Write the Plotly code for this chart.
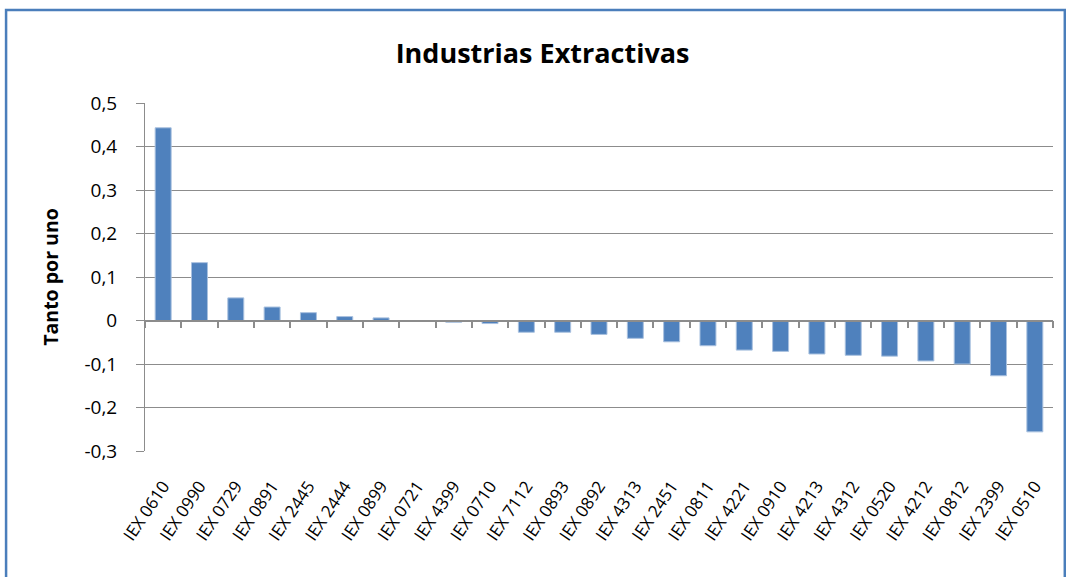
import plotly.graph_objects as go

# Códigos de actividad (orden descendente del indicador)
codigos = [
    "IEX 0610", "IEX 0990", "IEX 0729", "IEX 0891", "IEX 2445", "IEX 2444",
    "IEX 0899", "IEX 0721", "IEX 4399", "IEX 0710", "IEX 7112", "IEX 0893",
    "IEX 0892", "IEX 4313", "IEX 2451", "IEX 0811", "IEX 4221", "IEX 0910",
    "IEX 4213", "IEX 4312", "IEX 0520", "IEX 4212", "IEX 0812", "IEX 2399",
    "IEX 0510",
]

# Valor (tanto por uno) para cada código
valores = [
    0.443, 0.133, 0.052, 0.031, 0.018, 0.009,
    0.006, 0.0, -0.004, -0.007, -0.027, -0.027,
    -0.032, -0.041, -0.049, -0.058, -0.068, -0.071,
    -0.077, -0.080, -0.082, -0.093, -0.100, -0.127,
    -0.256,
]

# Escala del eje vertical
y_ticks = [0.5, 0.4, 0.3, 0.2, 0.1, 0.0, -0.1, -0.2, -0.3]
y_tick_labels = ["0,5", "0,4", "0,3", "0,2", "0,1", "0", "-0,1", "-0,2", "-0,3"]

y_min, y_max = -0.3, 0.5
zero_pos = (0 - y_min) / (y_max - y_min)

FONT = "Open Sans"
GRID = "#8C8C8C"

fig = go.Figure()

fig.add_trace(go.Bar(
    x=codigos, y=valores,
    xaxis="x", yaxis="y",
    marker=dict(color="#4F81BD", line=dict(color="#A9C1DF", width=1)),
    showlegend=False,
))

# Copia transparente que sostiene el eje de categorías situado en y = 0
fig.add_trace(go.Bar(
    x=codigos, y=valores,
    xaxis="x2", yaxis="y",
    marker=dict(color="rgba(0,0,0,0)", line=dict(width=0)),
    hoverinfo="skip", showlegend=False,
))

fig.update_layout(
    width=1066, height=577,
    margin=dict(l=145, r=13, t=103, b=126),
    paper_bgcolor="white", plot_bgcolor="white",
    bargap=0.56,
    font=dict(family=FONT, color="#000000"),
    title=dict(
        text="<b>Industrias Extractivas</b>",
        font=dict(family=FONT, size=27, color="#000000"),
        xref="container", x=0.509, xanchor="center",
        yref="container", y=0.908, yanchor="middle",
    ),
    xaxis=dict(
        type="category", categoryorder="array", categoryarray=codigos,
        range=[-0.5, len(codigos) - 0.5],
        showgrid=False, zeroline=False, showline=False, ticks="",
        tickangle=-56, tickfont=dict(family=FONT, size=17),
        ticklabelstandoff=21,
    ),
    xaxis2=dict(
        type="category", categoryorder="array", categoryarray=codigos,
        range=[-0.5, len(codigos) - 0.5],
        overlaying="x", anchor="free", position=zero_pos,
        showgrid=False, zeroline=False,
        showline=True, linecolor=GRID, linewidth=1.5,
        ticks="outside", tickson="boundaries", ticklen=7,
        tickcolor=GRID, tickwidth=1.5,
        showticklabels=False,
    ),
    yaxis=dict(
        range=[y_min, y_max],
        tickvals=y_ticks, ticktext=y_tick_labels,
        tickfont=dict(family=FONT, size=19),
        ticklabelstandoff=15,
        showgrid=True, gridcolor=GRID, gridwidth=1,
        zeroline=False,
        showline=True, linecolor=GRID, linewidth=1,
        ticks="outside", ticklen=8, tickcolor=GRID,
        title=dict(text="<b>Tanto por uno</b>",
                   font=dict(family=FONT, size=19.5), standoff=20),
    ),
    shapes=[
        dict(type="rect", xref="paper", yref="paper",
             x0=-0.153, x1=1.013, y0=-0.6, y1=1.267,
             line=dict(color="#4A7EBB", width=2.5),
             fillcolor="rgba(0,0,0,0)", layer="below"),
    ],
)

fig.write_html("out.html")
